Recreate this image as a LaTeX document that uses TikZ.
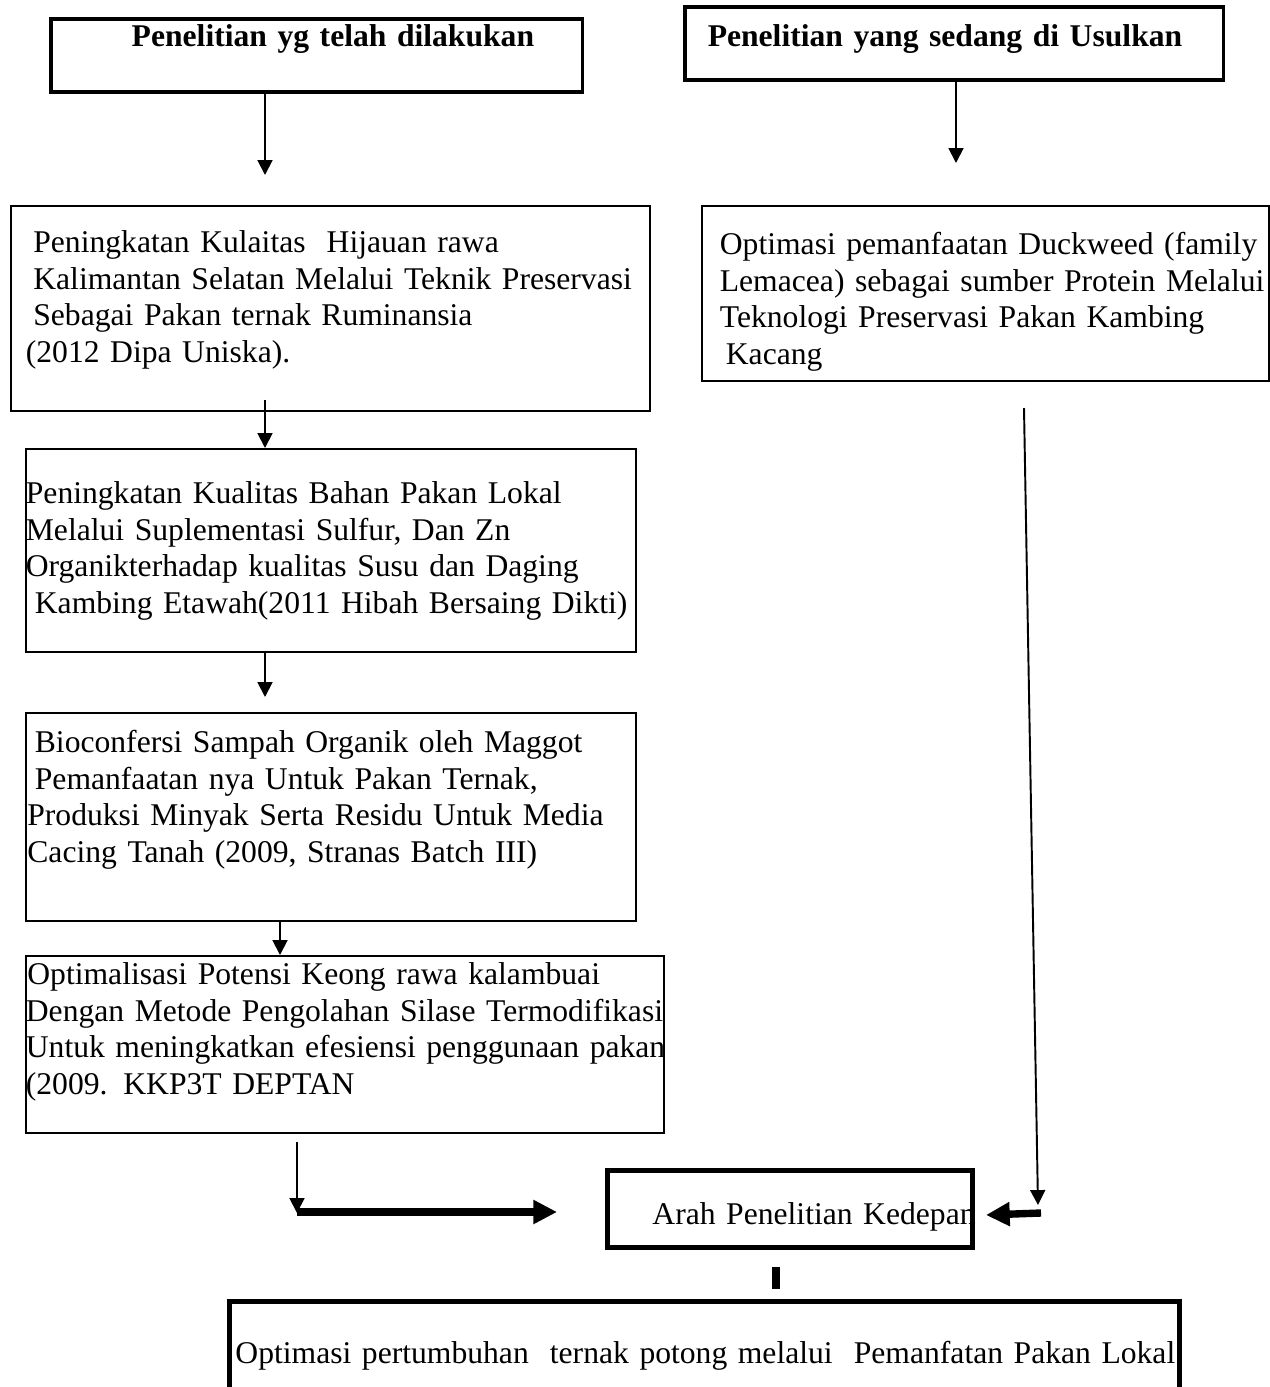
\documentclass[tikz,border=0pt]{standalone}
\usepackage{fontspec}
\setmainfont{Liberation Serif}
\usetikzlibrary{arrows.meta}
\newcommand{\tline}[2][0cm]{\mbox{\hspace*{#1}#2}}

\begin{document}
\begin{tikzpicture}[x=0.02cm,y=-0.02cm,
    rbox/.style={draw,line width=1pt,anchor=north west,inner sep=0pt,align=left,
      font=\fontsize{18}{20.8}\selectfont},
    headbox/.style={rbox,line width=2pt,font=\fontsize{18}{20.8}\selectfont\bfseries},
    bigbox/.style={rbox,line width=2.8pt},
    thinarr/.style={line width=1.1pt,-{Triangle[width=8.5pt,length=8.5pt]}},
    thickarr/.style={line width=4.2pt,-{Triangle[width=13pt,length=13.5pt]}}]
    \useasboundingbox (0,0) rectangle (1270,1387);
    \clip (0,0) rectangle (1270,1387);
    % judul kolom
    \node[headbox,text width=10.64cm,text height=0.56cm,text depth=0.9cm] (hdrA) at (49,17)
        {\tline[1.62cm]{Penelitian yg telah dilakukan}};
    \node[headbox,text width=10.78cm,text height=0.8cm,text depth=0.66cm] (hdrB) at (683,5)
        {\tline[0.46cm]{Penelitian yang sedang di Usulkan}};
    % penelitian terdahulu
    \node[rbox,text width=12.78cm,text height=0.94cm,text depth=3.16cm] (riset1) at (10,205)
        {\tline[0.45cm]{Peningkatan Kulaitas~ Hijauan rawa}\\
         \tline[0.45cm]{Kalimantan Selatan Melalui Teknik Preservasi}\\
         \tline[0.45cm]{Sebagai Pakan ternak Ruminansia}\\
         \tline[0.3cm]{(2012 Dipa Uniska).}};
    \node[rbox,text width=11.34cm,text height=0.98cm,text depth=2.52cm] (usul) at (701,205)
        {\tline[0.36cm]{Optimasi pemanfaatan Duckweed (family}\\
         \tline[0.36cm]{Lemacea) sebagai sumber Protein Melalui}\\
         \tline[0.36cm]{Teknologi Preservasi Pakan Kambing}\\
         \tline[0.48cm]{Kacang}};
    \node[rbox,text width=12.2cm,text height=1.1cm,text depth=2.96cm] (riset2) at (25,448)
        {\tline{Peningkatan Kualitas Bahan Pakan Lokal}\\
         \tline{Melalui Suplementasi Sulfur, Dan Zn}\\
         \tline{Organikterhadap kualitas Susu dan Daging}\\
         \tline[0.18cm]{Kambing Etawah(2011 Hibah Bersaing Dikti)}};
    \node[rbox,text width=12.2cm,text height=0.8cm,text depth=3.36cm] (riset3) at (25,712)
        {\tline[0.18cm]{Bioconfersi Sampah Organik oleh Maggot}\\
         \tline[0.18cm]{Pemanfaatan nya Untuk Pakan Ternak,}\\
         \tline[0.03cm]{Produksi Minyak Serta Residu Untuk Media}\\
         \tline[0.03cm]{Cacing Tanah (2009, Stranas Batch III)}};
    \node[rbox,text width=12.76cm,text height=0.58cm,text depth=2.96cm] (riset4) at (25,955)
        {\tline[0.03cm]{Optimalisasi Potensi Keong rawa kalambuai}\\
         \tline{Dengan Metode Pengolahan Silase Termodifikasi}\\
         \tline{Untuk meningkatkan efesiensi penggunaan pakan}\\
         \tline{(2009. KKP3T DEPTAN}};
    % arah ke depan
    \node[bigbox,text width=7.3cm,text height=1.08cm,text depth=0.46cm] (arah) at (605,1168)
        {\tline[0.9cm]{Arah Penelitian Kedepan}};
    \node[bigbox,text width=19cm,text height=1.24cm,text depth=1.3cm] (tujuan) at (227,1299)
        {\tline[0.12cm]{Optimasi pertumbuhan~ ternak potong melalui~ Pemanfatan Pakan Lokal}};
    % panah
    \coordinate (tipA) at (265,175);
    \coordinate (tipB) at (956,163);
    \coordinate (linkA) at (265,400);
    \coordinate (tipC) at (265,697);
    \coordinate (colD) at (280,0);
    \draw[thinarr] (hdrA.south -| tipA) -- (tipA);
    \draw[thinarr] (hdrB.south -| tipB) -- (tipB);
    \draw[thinarr] (linkA) -- (riset2.north -| linkA);
    \draw[thinarr] (riset2.south -| tipC) -- (tipC);
    \draw[thinarr] (riset3.south -| colD) -- (riset4.north -| colD);
    \coordinate (dropA) at (297,1142);
    \coordinate (turn) at (297,1212);
    \coordinate (goA) at (557,1212);
    \draw[thinarr] (dropA) -- ([yshift=-0.02cm]turn);
    \draw[thickarr] (turn) -- (goA);
    \coordinate (dwTop) at (1024,408);
    \coordinate (dwBot) at (1038,1205);
    \draw[thinarr] (dwTop) -- (dwBot);
    \coordinate (backR) at (1041,1213);
    \coordinate (backL) at (986,1215);
    \draw[thickarr] (backR) -- (backL);
    \coordinate (barT) at (776,1267);
    \coordinate (barB) at (776,1289);
    \draw[line width=4pt] (barT) -- (barB);
\end{tikzpicture}
\end{document}
